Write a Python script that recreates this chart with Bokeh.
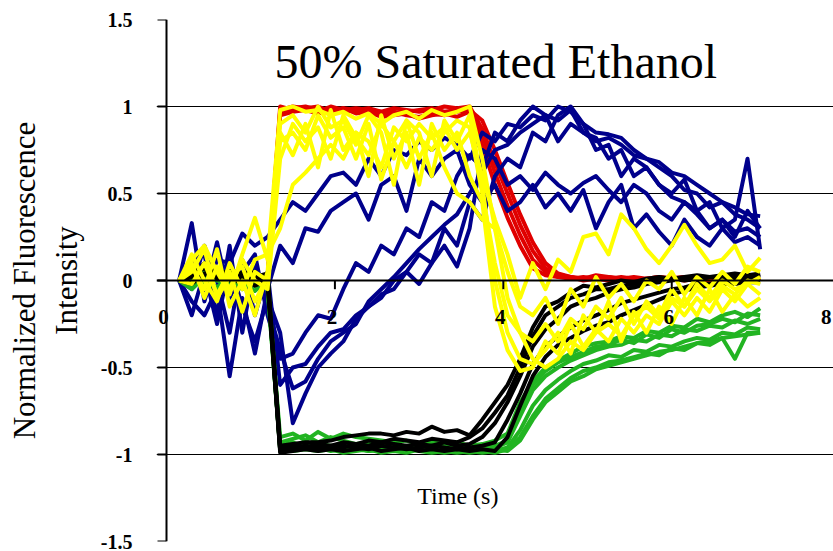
from bokeh.plotting import figure
from bokeh.models import Range1d, FixedTicker, Span, Label, Grid
from bokeh.embed import file_html
from bokeh.resources import INLINE

# ---------------- data ----------------
time_s = [0.15, 0.3, 0.45, 0.6, 0.75, 0.9, 1.05, 1.2,
          1.35, 1.5, 1.65, 1.8, 1.95, 2.1, 2.25, 2.4,
          2.55, 2.7, 2.85, 3.0, 3.15, 3.3, 3.45, 3.6,
          3.75, 3.9, 4.05, 4.2, 4.35, 4.5, 4.65, 4.8,
          4.95, 5.1, 5.25, 5.4, 5.55, 5.7, 5.85, 6.0,
          6.15, 6.3, 6.45, 6.6, 6.75, 6.9, 7.05]

red1 = [0, 0.02, 0.0, 0.03, -0.01, 0.02, 0.01, 0.0,
        0.97, 0.99, 1.0, 0.98, 0.99, 0.97, 0.98, 0.99,
        0.97, 0.96, 0.97, 0.98, 0.99, 0.97, 0.98, 0.99,
        0.78, 0.55, 0.36, 0.2, 0.07, 0.03, 0.02, 0.01,
        0.02, 0.01, 0.0, 0.01, 0.0, 0.01, 0.02, 0.01,
        0.0, 0.01, 0.02, 0.01, 0.0, 0.01, 0.0]
red2 = [0, 0.01, 0.03, 0.0, 0.02, -0.01, 0.02, 0.01,
        1.0, 0.98, 0.99, 1.0, 0.97, 0.99, 0.98, 0.96,
        0.95, 0.97, 0.95, 0.94, 0.96, 0.95, 0.97, 0.98,
        0.92, 0.75, 0.56, 0.38, 0.22, 0.1, 0.04, 0.02,
        0.01, 0.02, 0.01, 0.02, 0.01, 0.0, 0.01, 0.02,
        0.01, 0.0, 0.01, 0.02, 0.01, 0.0, 0.01]
red3 = [0, -0.01, 0.02, 0.01, 0.0, 0.03, 0.0, 0.02,
        0.95, 0.97, 0.98, 0.96, 0.98, 0.99, 0.96, 0.97,
        0.94, 0.95, 0.96, 0.93, 0.95, 0.96, 0.94, 0.97,
        0.84, 0.62, 0.43, 0.26, 0.12, 0.05, 0.02, 0.02,
        0.01, 0.03, 0.02, 0.01, 0.02, 0.01, 0.02, 0.01,
        0.02, 0.01, 0.0, 0.01, 0.02, 0.01, 0.02]
red4 = [0, 0.01, -0.02, 0.02, 0.01, 0.0, 0.03, 0.01,
        0.98, 1.0, 0.99, 0.97, 1.0, 0.98, 0.99, 0.98,
        0.97, 0.99, 0.98, 0.97, 0.98, 1.0, 0.99, 1.0,
        0.87, 0.68, 0.5, 0.32, 0.17, 0.07, 0.03, 0.02,
        0.0, 0.01, 0.02, 0.01, 0.0, 0.01, 0.0, 0.01,
        0.02, 0.01, 0.0, 0.02, 0.01, 0.0, 0.01]

blue1 = [0, 0.33, -0.12, 0.12, 0.1, 0.27, 0.2, 0.25,
         0.35, 0.45, 0.4, 0.5, 0.6, 0.62, 0.55, 0.7,
         0.6, 0.75, 0.72, 0.8, 0.75, 0.82, 0.78, 0.7,
         0.85, 0.8, 0.9, 0.88, 0.95, 0.92, 1.0, 0.97,
         0.9, 0.85, 0.84, 0.82, 0.75, 0.7, 0.68, 0.62,
         0.6, 0.55, 0.5, 0.45, 0.42, 0.38, 0.37]
blue2 = [0, -0.12, -0.2, -0.05, -0.55, -0.1, -0.42, -0.05,
         0.2, 0.1, 0.3, 0.28, 0.4, 0.45, 0.5, 0.35,
         0.55, 0.6, 0.4, 0.7, 0.6, 0.7, 0.75, 0.55,
         0.45, 0.55, 0.4, 0.45, 0.55, 0.42, 0.5, 0.4,
         0.52, 0.3, 0.45, 0.55, 0.3, 0.38, 0.28, 0.2,
         0.35, 0.25, 0.2, 0.3, 0.22, 0.25, 0.2]
blue3 = [0, 0.1, 0.15, -0.2, 0.2, -0.3, 0.1, -0.15,
         -0.4, -0.62, -0.58, -0.45, -0.35, -0.3, -0.25, -0.12,
         -0.05, 0.02, 0.1, 0.18, 0.25, 0.32, 0.38, 0.5,
         0.62, 0.75, 0.78, 0.85, 0.9, 0.95, 0.92, 0.98,
         0.85, 0.8, 0.82, 0.78, 0.72, 0.7, 0.65, 0.6,
         0.52, 0.5, 0.42, 0.45, 0.38, 0.35, 0.3]
blue4 = [0, -0.2, 0.05, -0.25, 0.1, -0.15, -0.35, -0.1,
         -0.3, -0.82, -0.65, -0.5, -0.42, -0.35, -0.22, -0.15,
         -0.1, 0.0, 0.05, 0.15, 0.1, 0.3, 0.2, 0.45,
         0.35, 0.6, 0.7, 0.65, 0.85, 0.8, 0.95, 1.0,
         0.9, 0.75, 0.78, 0.6, 0.7, 0.65, 0.55, 0.5,
         0.58, 0.4, 0.45, 0.3, 0.35, 0.7, 0.18]
blue5 = [0, 0.12, -0.08, 0.22, -0.1, 0.05, 0.15, -0.2,
         -0.45, -0.42, -0.3, -0.2, -0.22, -0.05, 0.1, 0.05,
         0.2, 0.15, 0.3, 0.25, 0.45, 0.4, 0.6, 0.72,
         0.65, 0.85, 0.8, 0.92, 1.0, 0.95, 0.8, 0.9,
         0.85, 0.82, 0.7, 0.75, 0.6, 0.65, 0.55, 0.48,
         0.45, 0.4, 0.3, 0.35, 0.25, 0.4, 0.3]
blue6 = [0, -0.05, 0.2, 0.0, -0.3, 0.12, -0.2, 0.05,
         -0.6, -0.5, -0.48, -0.38, -0.3, -0.28, -0.2, -0.15,
         -0.08, -0.05, 0.05, -0.02, 0.1, 0.2, 0.08, 0.3,
         0.75, 0.7, 0.55, 0.6, 0.52, 0.62, 0.55, 0.5,
         0.56, 0.6, 0.52, 0.45, 0.55, 0.5, 0.4, 0.35,
         0.45, 0.38, 0.3, 0.35, 0.28, 0.3, 0.25]

green1 = [0, 0.0, -0.03, 0.05, 0.02, -0.05, 0.01, -0.02,
          -0.9, -0.88, -0.92, -0.87, -0.91, -0.88, -0.9, -0.91,
          -0.92, -0.93, -0.92, -0.94, -0.93, -0.94, -0.93, -0.95,
          -0.94, -0.92, -0.88, -0.7, -0.58, -0.5, -0.46, -0.42,
          -0.38, -0.36, -0.35, -0.32, -0.33, -0.29, -0.3, -0.26,
          -0.27, -0.22, -0.24, -0.2, -0.18, -0.21, -0.16]
green2 = [0, 0.04, 0.02, -0.04, 0.03, 0.0, -0.06, 0.0,
          -0.93, -0.91, -0.89, -0.93, -0.9, -0.92, -0.94, -0.93,
          -0.95, -0.94, -0.96, -0.95, -0.96, -0.97, -0.96, -0.98,
          -0.97, -0.96, -0.93, -0.78, -0.63, -0.55, -0.5, -0.46,
          -0.43, -0.4, -0.38, -0.37, -0.34, -0.35, -0.31, -0.32,
          -0.28, -0.29, -0.26, -0.27, -0.23, -0.25, -0.22]
green3 = [0, -0.03, 0.05, 0.01, -0.04, 0.02, 0.04, -0.05,
          -0.96, -0.97, -0.95, -0.96, -0.97, -0.96, -0.97, -0.98,
          -0.97, -0.98, -0.97, -0.98, -0.99, -0.98, -0.99, -0.98,
          -0.99, -0.98, -0.96, -0.86, -0.72, -0.63, -0.57, -0.52,
          -0.48, -0.46, -0.43, -0.44, -0.4, -0.41, -0.37, -0.38,
          -0.35, -0.33, -0.34, -0.3, -0.31, -0.27, -0.28]
green4 = [0, 0.02, -0.01, 0.03, 0.06, -0.02, 0.0, 0.03,
          -0.98, -0.96, -0.97, -0.98, -0.97, -0.99, -0.98, -0.97,
          -0.99, -0.98, -0.99, -0.97, -0.98, -0.99, -0.98, -0.99,
          -0.98, -0.99, -0.97, -0.9, -0.78, -0.68, -0.62, -0.56,
          -0.52, -0.5, -0.47, -0.46, -0.44, -0.42, -0.43, -0.39,
          -0.4, -0.36, -0.37, -0.33, -0.45, -0.3, -0.3]
green5 = [0, -0.05, 0.02, 0.0, -0.02, 0.04, -0.03, -0.02,
          -0.95, -0.93, -0.96, -0.94, -0.95, -0.97, -0.95, -0.96,
          -0.94, -0.96, -0.95, -0.97, -0.96, -0.95, -0.97, -0.96,
          -0.97, -0.95, -0.92, -0.75, -0.6, -0.52, -0.47, -0.44,
          -0.41, -0.38, -0.37, -0.34, -0.36, -0.31, -0.33, -0.28,
          -0.3, -0.26, -0.25, -0.22, -0.24, -0.19, -0.2]
green6 = [0, 0.03, 0.0, -0.05, 0.01, 0.03, 0.02, -0.04,
          -0.97, -0.98, -0.97, -0.96, -0.98, -0.97, -0.96, -0.98,
          -0.97, -0.96, -0.98, -0.97, -0.98, -0.96, -0.98, -0.97,
          -0.98, -0.97, -0.98, -0.92, -0.8, -0.7, -0.64, -0.58,
          -0.55, -0.51, -0.49, -0.47, -0.45, -0.43, -0.41, -0.4,
          -0.38, -0.36, -0.35, -0.33, -0.32, -0.31, -0.3]

black1 = [0, 0.05, 0.08, 0.03, 0.06, 0.04, 0.0, 0.02,
          -0.95, -0.94, -0.93, -0.93, -0.92, -0.9, -0.89, -0.88,
          -0.88, -0.89, -0.87, -0.88, -0.84, -0.87, -0.86, -0.89,
          -0.8, -0.7, -0.6, -0.45, -0.27, -0.15, -0.12, -0.07,
          -0.03, -0.04, -0.02, 0.0, -0.01, 0.01, 0.02, 0.01,
          0.02, 0.03, 0.02, 0.03, 0.04, 0.03, 0.04]
black2 = [0, 0.02, 0.1, 0.04, 0.02, -0.02, 0.03, 0.01,
          -0.98, -0.96, -0.95, -0.96, -0.95, -0.96, -0.94, -0.95,
          -0.93, -0.94, -0.95, -0.94, -0.95, -0.93, -0.95, -0.94,
          -0.9, -0.82, -0.7, -0.55, -0.38, -0.28, -0.22, -0.15,
          -0.12, -0.1, -0.07, -0.05, -0.04, -0.02, -0.01, 0.0,
          0.01, 0.0, 0.02, 0.01, 0.02, 0.03, 0.02]
black3 = [0, 0.06, 0.03, 0.07, 0.0, 0.04, 0.05, -0.01,
          -0.97, -0.97, -0.96, -0.97, -0.96, -0.95, -0.96, -0.97,
          -0.95, -0.96, -0.97, -0.96, -0.95, -0.96, -0.97, -0.96,
          -0.95, -0.93, -0.8, -0.65, -0.48, -0.38, -0.32, -0.27,
          -0.23, -0.2, -0.17, -0.13, -0.11, -0.09, -0.07, -0.05,
          -0.04, -0.02, -0.02, -0.01, 0.0, 0.01, 0.0]
black4 = [0, -0.02, 0.04, 0.06, 0.03, 0.01, -0.03, 0.0,
          -0.99, -0.98, -0.97, -0.98, -0.97, -0.98, -0.97, -0.96,
          -0.98, -0.97, -0.96, -0.98, -0.97, -0.98, -0.97, -0.98,
          -0.97, -0.98, -0.9, -0.72, -0.55, -0.44, -0.37, -0.33,
          -0.29, -0.26, -0.24, -0.2, -0.17, -0.14, -0.11, -0.08,
          -0.06, -0.04, -0.03, -0.02, -0.02, -0.01, -0.01]
black5 = [0, 0.03, 0.07, 0.01, 0.05, 0.03, 0.02, 0.04,
          -0.96, -0.95, -0.96, -0.94, -0.95, -0.93, -0.94, -0.92,
          -0.93, -0.91, -0.92, -0.93, -0.91, -0.92, -0.93, -0.9,
          -0.85, -0.76, -0.66, -0.5, -0.32, -0.2, -0.15, -0.1,
          -0.08, -0.05, -0.05, -0.03, -0.02, -0.01, 0.0, 0.01,
          0.0, 0.01, 0.02, 0.02, 0.03, 0.02, 0.03]

yellow1 = [0, 0.12, 0.2, 0.05, -0.08, 0.15, 0.36, 0.12,
           0.98, 1.0, 0.97, 0.98, 0.95, 0.97, 0.93, 0.96,
           0.9, 0.95, 0.97, 0.93, 0.98, 0.95, 0.97, 1.0,
           0.7, 0.3, -0.1, -0.3, -0.45, -0.5, -0.45, -0.35,
           -0.4, -0.3, -0.25, -0.32, -0.2, -0.15, -0.22, -0.1,
           -0.15, -0.05, -0.12, -0.03, -0.08, 0.0, -0.02]
yellow2 = [0, 0.08, -0.05, 0.18, -0.15, 0.0, -0.2, 0.05,
           0.85, 0.72, 0.9, 0.65, 0.98, 0.75, 0.85, 0.6,
           0.95, 0.7, 0.85, 0.55, 0.9, 0.75, 0.85, 0.6,
           0.45, -0.15, -0.4, -0.52, -0.5, -0.35, -0.42, -0.25,
           -0.38, -0.28, -0.35, -0.22, -0.3, -0.2, -0.25, -0.12,
           -0.2, -0.1, -0.18, -0.05, -0.12, -0.02, -0.08]
yellow3 = [0, 0.15, 0.0, -0.12, 0.1, -0.05, 0.12, 0.15,
           0.3, 0.55, 0.62, 0.7, 0.78, 0.7, 0.85, 0.8,
           0.65, 0.88, 0.8, 0.9, 0.82, 0.88, 0.75, 0.85,
           0.6, 0.35, 0.15, -0.1, 0.1, -0.05, 0.12, 0.05,
           0.25, 0.27, 0.15, 0.38, 0.3, 0.18, 0.1, 0.2,
           0.32, 0.2, 0.1, 0.12, 0.2, 0.05, 0.13]
yellow4 = [0, -0.02, 0.1, -0.08, 0.05, -0.18, 0.05, 0.0,
           0.8, 0.85, 0.75, 0.95, 0.82, 0.88, 0.7, 0.9,
           0.58, 0.8, 0.92, 0.7, 0.85, 0.65, 0.5, 0.45,
           0.35, 0.3, 0.05, -0.15, -0.2, -0.1, -0.25, -0.05,
           -0.15, 0.02, -0.1, -0.02, -0.12, 0.0, -0.05, 0.05,
           -0.08, 0.02, -0.04, 0.05, -0.02, 0.08, 0.05]
yellow5 = [0, 0.05, 0.18, -0.1, 0.02, 0.08, -0.12, 0.02,
           0.9, 0.95, 0.85, 1.0, 0.88, 0.92, 0.78, 0.95,
           0.85, 0.55, 0.92, 0.85, 0.6, 0.92, 0.8, 0.95,
           0.55, 0.0, -0.3, -0.45, -0.48, -0.4, -0.3, -0.42,
           -0.2, -0.3, -0.12, -0.35, -0.18, -0.3, -0.15, -0.25,
           -0.1, -0.2, -0.05, -0.18, -0.08, -0.15, -0.1]
yellow6 = [0, 0.1, -0.1, 0.08, -0.05, 0.12, 0.0, -0.05,
           0.7, 0.9, 0.8, 0.88, 0.7, 0.95, 0.82, 0.72,
           0.9, 0.8, 0.65, 0.82, 0.75, 0.85, 0.92, 0.88,
           0.5, 0.1, -0.2, -0.3, -0.35, -0.25, -0.35, -0.22,
           -0.28, -0.15, -0.22, -0.1, -0.25, -0.12, -0.2, -0.05,
           -0.15, -0.02, -0.1, 0.0, -0.05, -0.02, 0.02]

y_ticks = [-1.5, -1.0, -0.5, 0.0, 0.5, 1.0, 1.5]
y_tick_labels = ["-1.5", "-1", "-0.5", "0", "0.5", "1", "1.5"]
grid_ticks = [-1.0, -0.5, 0.5, 1.0]
border_ticks = [-1.5, 1.5]
x_ticks = [0, 2, 4, 6, 8]
x_tick_labels = ["0", "2", "4", "6", "8"]
x_tick_marks = [2, 4, 6, 8]

title_text = "50% Saturated Ethanol"
x_title = "Time (s)"
y_title = "Normalized Fluorescence\nIntensity"

# ---------------- figure ----------------
SERIF = "Liberation Serif"
PX_PER_X = 84.2          # horizontal pixels per second
X_START = -10 / PX_PER_X  # a little room left of the y axis for the "0" label
X_END = 7.921
TICK_LEN = 9 / PX_PER_X

p = figure(width=833, height=551, output_backend="svg", toolbar_location=None,
           x_range=Range1d(X_START, X_END), y_range=Range1d(-1.5, 1.5),
           x_axis_location=None,
           min_border_left=156, min_border_right=0,
           min_border_top=19, min_border_bottom=10)
p.background_fill_color = "white"
p.border_fill_color = "white"
p.outline_line_color = None

p.xgrid.visible = False
p.ygrid.ticker = FixedTicker(ticks=grid_ticks)
p.ygrid.grid_line_color = "black"
p.ygrid.grid_line_width = 1
p.add_layout(Grid(dimension=1, ticker=FixedTicker(ticks=border_ticks),
                  grid_line_color="#808080", grid_line_width=1))

ax = p.yaxis[0]
ax.ticker = FixedTicker(ticks=y_ticks)
ax.major_label_overrides = {(int(v) if v == int(v) else v): s
                            for v, s in zip(y_ticks, y_tick_labels)}
ax.axis_line_color = None
ax.major_tick_line_color = None
ax.major_tick_out = 0
ax.major_tick_in = 0
ax.minor_tick_line_color = None
ax.major_label_text_font = SERIF
ax.major_label_text_font_style = "bold"
ax.major_label_text_font_size = "20px"
ax.major_label_text_color = "black"
ax.major_label_standoff = 24
ax.axis_label = y_title
ax.axis_label_text_font = SERIF
ax.axis_label_text_font_style = "normal"
ax.axis_label_text_font_size = "31px"
ax.axis_label_text_color = "black"
ax.axis_label_standoff = 14

groups = [
    ([red1, red2, red3, red4], "#E00000"),
    ([blue1, blue2, blue3, blue4, blue5, blue6], "#00008C"),
    ([green1, green2, green3, green4, green5, green6], "#22B422"),
    ([black1, black2, black3, black4, black5], "#000000"),
    ([yellow1, yellow2, yellow3, yellow4, yellow5, yellow6], "#FFFF00"),
]
for series_list, col in groups:
    for ys in series_list:
        p.line(time_s, ys, line_color=col, line_width=4, line_join="round")

# y axis line at x = 0 with outward ticks
p.add_layout(Span(location=0, dimension="height", line_color="black", line_width=2))
p.segment(x0=[0] * len(y_ticks), y0=y_ticks, x1=[-TICK_LEN] * len(y_ticks), y1=y_ticks,
          line_color="black", line_width=2)

# x axis drawn through y = 0
p.add_layout(Span(location=0, dimension="width", line_color="black", line_width=2))
p.segment(x0=x_tick_marks, y0=[0] * len(x_tick_marks),
          x1=x_tick_marks, y1=[-0.05] * len(x_tick_marks),
          line_color="black", line_width=2)
for xv, lab in zip(x_ticks, x_tick_labels):
    off = -3 if xv < X_END else -14
    p.add_layout(Label(x=xv, y=-0.21, x_offset=off, text=lab, text_align="center",
                       text_baseline="middle", text_font=SERIF,
                       text_font_style="bold", text_font_size="21px",
                       text_color="black"))

p.add_layout(Label(x=3.91, y=1.258, text=title_text, text_align="center",
                   text_baseline="alphabetic", text_font=SERIF,
                   text_font_size="48px", text_color="black"))
p.add_layout(Label(x=3.46, y=-1.238, text=x_title, text_align="center",
                   text_baseline="alphabetic", text_font=SERIF,
                   text_font_size="24px", text_color="black"))

open("out.html", "w").write(file_html(p, INLINE))
